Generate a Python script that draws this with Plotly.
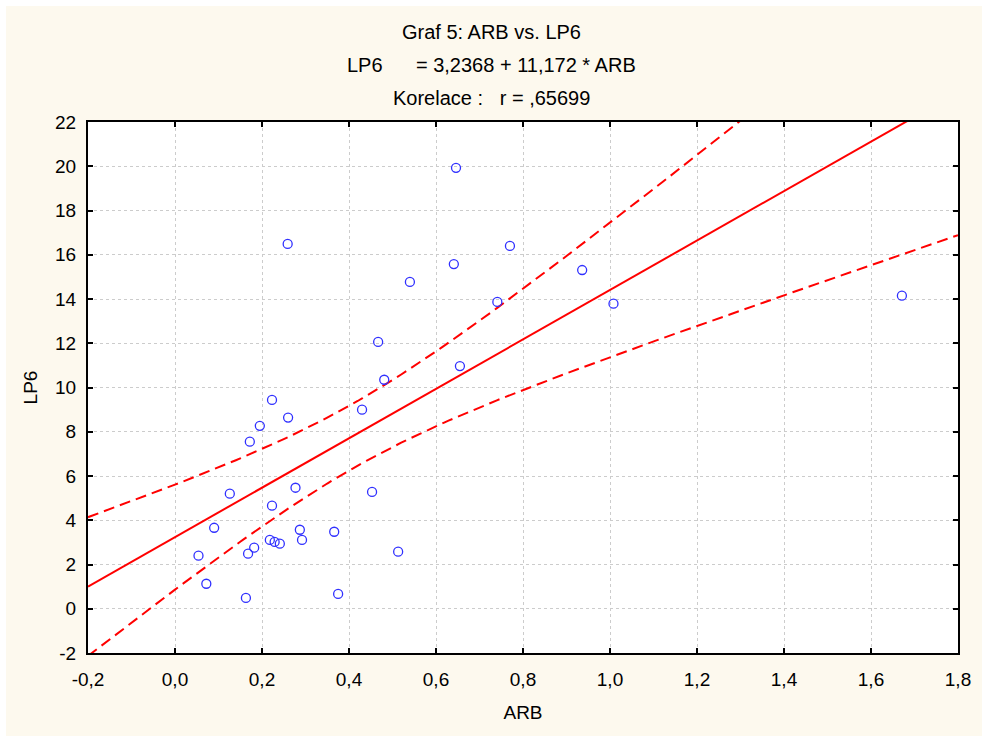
import numpy as np
import plotly.graph_objects as go

# ---- data ----
arb = [0.646, 0.259, 0.770, 0.641, 0.936, 0.540, 0.741, 1.008, 1.671, 0.467,
       0.655, 0.481, 0.223, 0.430, 0.260, 0.195, 0.172, 0.277, 0.453, 0.126,
       0.223, 0.090, 0.287, 0.366, 0.218, 0.292, 0.229, 0.241, 0.182, 0.513,
       0.168, 0.054, 0.072, 0.375, 0.163]
lp6 = [19.93, 16.49, 16.40, 15.58, 15.31, 14.77, 13.87, 13.79, 14.15, 12.06,
       10.97, 10.35, 9.44, 9.00, 8.64, 8.27, 7.55, 5.47, 5.28, 5.20,
       4.66, 3.66, 3.57, 3.48, 3.11, 3.11, 3.02, 2.94, 2.76, 2.58,
       2.49, 2.40, 1.13, 0.67, 0.49]

intercept = 3.2368
slope = 11.172

x_tickvals = [-0.2, 0.0, 0.2, 0.4, 0.6, 0.8, 1.0, 1.2, 1.4, 1.6, 1.8]
x_ticktext = ["-0,2", "0,0", "0,2", "0,4", "0,6", "0,8", "1,0", "1,2", "1,4", "1,6", "1,8"]
y_tickvals = [-2, 0, 2, 4, 6, 8, 10, 12, 14, 16, 18, 20, 22]
y_ticktext = ["-2", "0", "2", "4", "6", "8", "10", "12", "14", "16", "18", "20", "22"]

# ---- regression line and 95% confidence band computed from the data ----
x = np.array(arb)
y = np.array(lp6)
n = len(x)
resid = y - (intercept + slope * x)
s = np.sqrt(np.sum(resid ** 2) / (n - 2))
xbar = x.mean()
sxx = np.sum((x - xbar) ** 2)
tval = 2.0345  # t(0.975, n-2)
xs = np.linspace(-0.2, 1.8, 201)
yfit = intercept + slope * xs
half = tval * s * np.sqrt(1.0 / n + (xs - xbar) ** 2 / sxx)

font = "Arial, Liberation Sans, sans-serif"
red = "#ff0000"
blue = "#3030ff"

fig = go.Figure()
fig.add_trace(go.Scatter(x=xs, y=yfit + half, mode="lines",
                         line=dict(color=red, width=2, dash="11px,6px"), hoverinfo="skip"))
fig.add_trace(go.Scatter(x=xs, y=yfit - half, mode="lines",
                         line=dict(color=red, width=2, dash="11px,6px"), hoverinfo="skip"))
fig.add_trace(go.Scatter(x=xs, y=yfit, mode="lines",
                         line=dict(color=red, width=2), hoverinfo="skip"))
fig.add_trace(go.Scatter(x=arb, y=lp6, mode="markers", cliponaxis=False,
                         marker=dict(symbol="circle-open", size=9, color=blue,
                                     line=dict(width=1.3, color=blue))))

axis_common = dict(
    showgrid=True, gridcolor="#cccccc", griddash="dot", gridwidth=1,
    showline=True, linecolor="black", linewidth=2, mirror="ticks",
    ticks="inside", ticklen=5, tickwidth=2, tickcolor="black",
    zeroline=False, tickfont=dict(family=font, size=19, color="black"),
)

fig.update_layout(
    width=982, height=736,
    margin=dict(l=88, r=24, t=122, b=83),
    paper_bgcolor="white", plot_bgcolor="white",
    showlegend=False,
    font=dict(family=font, color="black"),
    xaxis=dict(range=[-0.2, 1.8], tickvals=x_tickvals, ticktext=x_ticktext,
               ticklabelstandoff=8,
               title=dict(text="ARB", font=dict(family=font, size=19), standoff=17),
               **axis_common),
    yaxis=dict(range=[-2, 22], tickvals=y_tickvals, ticktext=y_ticktext,
               ticklabelstandoff=6,
               title=dict(text="LP6", font=dict(family=font, size=19), standoff=12),
               **axis_common),
)

# cream background panel (pixels 6..982 x 6..736)
W, H = 870.0, 531.0
def px_x(p):
    return (p - 88) / W
def px_y(p):
    return (653 - p) / H
fig.add_shape(type="rect", xref="paper", yref="paper", layer="below",
              x0=px_x(6), x1=px_x(982), y0=px_y(736), y1=px_y(6),
              fillcolor="#fdf9ee", line=dict(width=0))
fig.add_shape(type="rect", xref="paper", yref="paper", layer="below",
              x0=0, x1=1, y0=0, y1=1, fillcolor="white", line=dict(width=0))

titles = ["Graf 5: ARB vs. LP6",
          "LP6\u00a0\u00a0\u00a0\u00a0\u00a0\u00a0= 3,2368 + 11,172 * ARB",
          "Korelace :\u00a0\u00a0\u00a0r = ,65699"]
title_y = [32, 65, 98]
for t, yy in zip(titles, title_y):
    fig.add_annotation(text=t, xref="paper", yref="paper",
                       x=px_x(491), y=px_y(yy), xanchor="center", yanchor="middle",
                       showarrow=False, font=dict(family=font, size=20, color="black"))

fig.write_html("out.html")
